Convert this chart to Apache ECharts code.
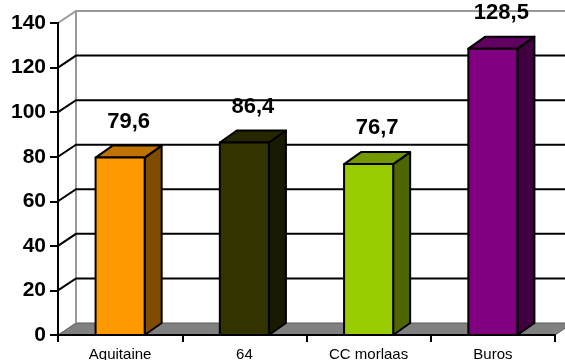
<!DOCTYPE html>
<html>
<head>
<meta charset="utf-8">
<script src="https://cdn.jsdelivr.net/npm/echarts@6/dist/echarts.min.js"></script>
<style>
  html, body { margin: 0; padding: 0; background: #fff; }
  #chart { width: 565px; height: 360px; }
</style>
</head>
<body>
<div id="chart"></div>
<script>
// data
const categories = ['Aquitaine', '64', 'CC morlaas', 'Buros'];
const values = [79.6, 86.4, 76.7, 128.5];
const yTicks = [0, 20, 40, 60, 80, 100, 120, 140];

// front / top / side colours of each bar
const frontColors = ['#FF9900', '#333300', '#99CC00', '#800080'];
const topColors = ['#BF7300', '#262600', '#739900', '#600060'];
const sideColors = ['#804D00', '#1A1A00', '#4D6600', '#400040'];

const FONT = 'Arial, "Liberation Sans", sans-serif';
const DX = 18, DY = -12;   // wall depth
const BX = 17, BY = -12;   // bar depth

const chart = echarts.init(document.getElementById('chart'));

// back wall, left wall and floor
const renderWalls = (params, api) => {
  const cs = params.coordSys;
  const v = yTicks[params.dataIndex];
  const y = api.coord([0, v])[1];
  const x0 = cs.x, x1 = cs.x + cs.width;
  const children = [];
  if (v === 0) {
    children.push({
      type: 'polygon',
      shape: { points: [[x0, y], [x1, y], [x1 + DX, y + DY], [x0 + DX, y + DY]] },
      style: { fill: '#808080', stroke: '#5a5a5a', lineWidth: 1 }
    });
    const yTop = api.coord([0, yTicks[yTicks.length - 1]])[1];
    children.push({
      type: 'line',
      shape: { x1: x0 + DX, y1: y + DY, x2: x0 + DX, y2: yTop + DY },
      style: { stroke: '#999', lineWidth: 2 }
    });
  } else {
    const top = v === yTicks[yTicks.length - 1];
    children.push({
      type: 'polyline',
      shape: { points: [[x0, y], [x0 + DX, y + DY], [x1 + DX + 20, y + DY]] },
      style: { stroke: top ? '#999' : '#000', lineWidth: 2, fill: null }
    });
  }
  return { type: 'group', children };
};

// 3d bars with labels
const renderBars = (params, api) => {
  const i = params.dataIndex;
  const v = api.value(1);
  const c = api.coord([api.value(0), v]);
  const b = api.coord([api.value(0), 0]);
  const w = api.size([1, 0])[0] * 0.395;
  const xl = c[0] - w / 2, xr = c[0] + w / 2, yt = c[1], yb = b[1];
  const border = { stroke: '#000', lineWidth: 2, lineJoin: 'round' };
  return {
    type: 'group',
    children: [
      {
        type: 'polygon',
        shape: { points: [[xr, yt], [xr + BX, yt + BY], [xr + BX, yb + BY], [xr, yb]] },
        style: Object.assign({ fill: sideColors[i] }, border)
      },
      {
        type: 'polygon',
        shape: { points: [[xl, yt], [xr, yt], [xr + BX, yt + BY], [xl + BX, yt + BY]] },
        style: Object.assign({ fill: topColors[i] }, border)
      },
      {
        type: 'rect',
        shape: { x: xl, y: yt, width: w, height: yb - yt },
        style: Object.assign({ fill: frontColors[i] }, border)
      },
      {
        type: 'text',
        x: c[0] + BX / 2,
        y: yt + BY - 24,
        style: {
          text: v.toFixed(1).replace('.', ','),
          font: 'bold 22px ' + FONT,
          fill: '#000',
          align: 'center',
          verticalAlign: 'middle'
        }
      }
    ]
  };
};

const option = {
  backgroundColor: '#fff',
  animation: false,
  grid: { left: 58, right: 10, top: 23, bottom: 25, outerBoundsMode: 'none', containLabel: false },
  xAxis: {
    type: 'category',
    data: categories,
    boundaryGap: true,
    axisLine: { lineStyle: { color: '#000', width: 2 } },
    axisTick: { show: true, length: 7, lineStyle: { color: '#000', width: 2 } },
    axisLabel: { color: '#000', fontSize: 15, fontFamily: FONT, margin: 12 },
    splitLine: { show: false },
    z: 5
  },
  yAxis: {
    type: 'value',
    min: 0,
    max: 140,
    interval: 20,
    axisLine: { show: true, lineStyle: { color: '#000', width: 2 } },
    axisTick: { show: true, length: 8, lineStyle: { color: '#000', width: 2 } },
    axisLabel: { color: '#000', fontSize: 21, fontWeight: 'bold', fontFamily: FONT, margin: 12 },
    splitLine: { show: false },
    z: 5
  },
  series: [
    {
      type: 'custom',
      name: 'walls',
      clip: false,
      silent: true,
      z: 1,
      renderItem: renderWalls,
      data: yTicks.map((t, i) => [i, t])
    },
    {
      type: 'custom',
      name: 'bars',
      clip: false,
      z: 3,
      renderItem: renderBars,
      encode: { x: 0, y: 1 },
      data: values.map((v, i) => [i, v])
    }
  ]
};

chart.setOption(option);
</script>
</body>
</html>
